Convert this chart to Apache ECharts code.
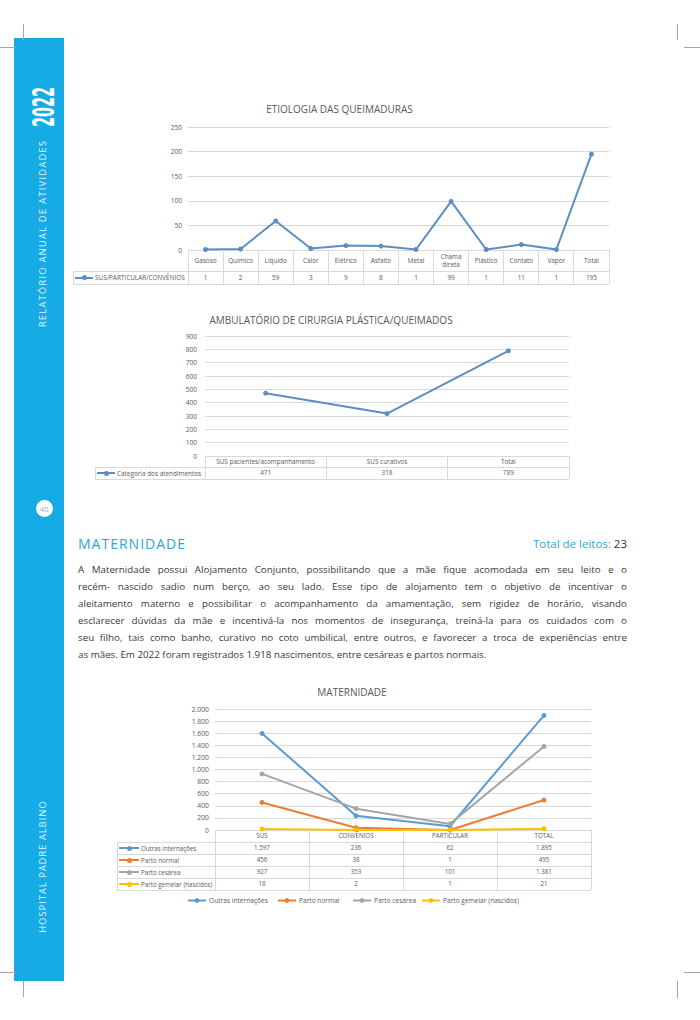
<!DOCTYPE html>
<html lang="pt-BR"><head><meta charset="utf-8"><title>Relatório Anual de Atividades 2022</title>
<script src="https://cdn.jsdelivr.net/npm/echarts@6.0.0/dist/echarts.min.js"></script>
<style>
html,body{margin:0;padding:0;background:#fff;}
#page{position:relative;width:700px;height:1020px;overflow:hidden;font-family:'Open Sans',sans-serif;background:#fff;}
.ln{position:absolute;background:#a6a6a6;}
.tl{position:absolute;background:#d9d9d9;}
.rot{position:absolute;white-space:nowrap;color:#fff;transform-origin:50% 50%;line-height:1;}
.cell{position:absolute;display:flex;align-items:center;justify-content:center;text-align:center;color:#595959;line-height:1.2;}
.legc{position:absolute;display:flex;align-items:center;color:#595959;white-space:nowrap;}
.key{position:relative;flex:none;margin-right:2px;}
.key i{position:absolute;left:0;right:0;top:50%;height:2px;margin-top:-1px;}
.key b{position:absolute;left:50%;top:50%;width:5px;height:5px;margin:-2.5px 0 0 -2.5px;border-radius:50%;}
.chart{position:absolute;}
.pl{position:absolute;left:78px;width:549px;height:17px;line-height:17px;color:#3a3a3a;text-align:justify;}
</style></head>
<body><div id="page">
  <div id="bar" style="position:absolute;left:14px;top:38px;width:50px;height:943px;background:#17ABE6;"></div>
  <div id="c1" class="chart" style="left:60px;top:95px;width:560px;height:195px;"></div>
  <div id="c2" class="chart" style="left:60px;top:300px;width:560px;height:190px;"></div>
  <div id="c3" class="chart" style="left:100px;top:680px;width:520px;height:235px;"></div>
</div>
<script>
// ================= DATA =================
const etioCategories = ['Gasoso','Químico','Líquido','Calor','Elétrico','Asfalto','Metal','Chama direta','Plástico','Contato','Vapor','Total'];
const etioSeriesName = 'SUS/PARTICULAR/CONVÊNIOS';
const etioValues = [1,2,59,3,9,8,1,99,1,11,1,195];
const etioAxis = {min:0, max:250, interval:50};

const ambCategories = ['SUS pacientes/acompanhamento','SUS curativos','Total'];
const ambSeriesName = 'Categoria dos atendimentos';
const ambValues = [471,318,789];
const ambAxis = {min:0, max:900, interval:100};

const matCategories = ['SUS','CONVÊNIOS','PARTICULAR','TOTAL'];
const matSeriesNames = ['Outras internações','Parto normal','Parto cesárea','Parto gemelar (nascidos)'];
const matOutras = [1597,236,62,1895];
const matNormal = [456,38,1,495];
const matCesarea = [927,353,101,1381];
const matGemelar = [18,2,1,21];
const matAxis = {min:0, max:2000, interval:200};

const titles = ['ETIOLOGIA DAS QUEIMADURAS','AMBULATÓRIO DE CIRURGIA PLÁSTICA/QUEIMADOS','MATERNIDADE'];
const sectionTitle = 'MATERNIDADE';
const bedsLabel = 'Total de leitos:';
const bedsValue = '23';
const paraLines = [
 'A Maternidade possui Alojamento Conjunto, possibilitando que a mãe fique acomodada em seu leito e o',
 'recém- nascido sadio num berço, ao seu lado. Esse tipo de alojamento tem o objetivo de incentivar o',
 'aleitamento materno e possibilitar o acompanhamento da amamentação, sem rigidez de horário, visando',
 'esclarecer dúvidas da mãe e incentivá-la nos momentos de insegurança, treiná-la para os cuidados com o',
 'seu filho, tais como banho, curativo no coto umbilical, entre outros, e favorecer a troca de experiências entre',
 'as mães. Em 2022 foram registrados 1.918 nascimentos, entre cesáreas e partos normais.'
];
const sideYear = '2022';
const sideTop = 'RELATÓRIO ANUAL DE ATIVIDADES';
const sideBottom = 'HOSPITAL PADRE ALBINO';
const pageNumber = '40';

// ================= STYLE =================
const blue1 = '#5B8EC2';
const matColors = ['#5B9BD5','#ED7D31','#A5A5A5','#FFC000'];
const FONT = "'Open Sans', sans-serif";
const fmt = v => String(v).replace(/\B(?=(\d{3})+(?!\d))/g, '.');

const page = document.getElementById('page');
function add(cls, css, text){ const d=document.createElement('div'); if(cls) d.className=cls; if(css) d.style.cssText=css; if(text!=null) d.textContent=text; page.appendChild(d); return d; }

// crop marks
[[0,47,16,1],[23,24,1,16],[0,972,16,1],[23,981,1,16],[684,47,16,1],[677,24,1,16],[684,972,16,1],[677,981,1,17]]
 .forEach(r=>add('ln',`left:${r[0]}px;top:${r[1]}px;width:${r[2]}px;height:${r[3]}px;`));

// rotated sidebar text
function rotText(txt, cx, cy, len, o){
  const d = add('rot', `left:${cx}px;top:${cy}px;font-size:${o.size}px;font-weight:${o.weight||400};font-family:${o.family||FONT};color:${o.color||'#fff'}`, txt);
  const w = d.getBoundingClientRect().width;
  if(o.mode==='scale'){
    d.style.transform = `translate(-50%,-50%) rotate(-90deg) scaleX(${len/w})`;
  } else {
    const ls = (len - w)/(txt.length-1);
    d.style.letterSpacing = ls+'px'; d.style.paddingLeft = ls+'px';
    d.style.transform = 'translate(-50%,-50%) rotate(-90deg)';
  }
  return d;
}
rotText(sideYear, 44, 107, 40, {size:30, weight:700, family:"'DejaVu Sans', sans-serif", mode:'scale'});
rotText(sideTop, 42, 234, 186, {size:9, color:'#e6f6fd'});
rotText(sideBottom, 41.5, 867, 131, {size:9, color:'#e6f6fd'});
add('', `position:absolute;left:35.5px;top:499.5px;width:17px;height:17px;border-radius:50%;background:#fff;color:#8fb4c9;font-size:8px;line-height:17px;text-align:center;font-family:${FONT}`, pageNumber);

// section heading
(function(){
  const h = add('', `position:absolute;left:78px;top:535px;height:18px;line-height:18px;font-size:14px;color:#2AA6D5;white-space:nowrap;font-family:${FONT}`, sectionTitle);
  const w = h.getBoundingClientRect().width;
  h.style.letterSpacing = ((107-w)/(sectionTitle.length-1))+'px';
  const b = add('', `position:absolute;right:73px;top:535px;height:18px;line-height:18px;font-size:11.5px;white-space:nowrap;color:#2AA6D5;font-family:${FONT}`);
  b.innerHTML = bedsLabel + ' <span style="color:#333">' + bedsValue + '</span>';
})();

// paragraph
(function(){
  const meas = add('', `position:absolute;visibility:hidden;white-space:nowrap;font-size:10px;font-family:${FONT}`);
  const ws = paraLines.map(t=>{meas.textContent=t; return meas.getBoundingClientRect().width;});
  meas.remove();
  const fs = Math.min(10*409/ws[5], 10*546/Math.max(...ws.slice(0,5)));
  paraLines.forEach((t,i)=>{
    add('pl', `top:${560.5+17*i}px;font-size:${fs}px;font-family:${FONT};text-align-last:${i<5?'justify':'left'}`, t);
  });
})();

// data tables (Excel style) under each chart
function buildTable(t){
  const n = t.categories.length;
  const cw = (t.x1 - t.x0)/n;
  const lastBottom = t.rowTops[t.rowTops.length-1] + t.rowH;
  for(let i=0;i<=n;i++) add('tl',`left:${t.x0+i*cw-0.5}px;top:${t.headTop}px;width:1px;height:${lastBottom-t.headTop}px`);
  add('tl',`left:${t.legX-0.5}px;top:${t.rowTops[0]}px;width:1px;height:${lastBottom-t.rowTops[0]}px`);
  t.rowTops.forEach(y=>add('tl',`left:${t.legX}px;top:${y-0.5}px;width:${t.x1-t.legX}px;height:1px`));
  add('tl',`left:${t.legX}px;top:${lastBottom-0.5}px;width:${t.x1-t.legX}px;height:1px`);
  t.categories.forEach((c,i)=>add('cell',`left:${t.x0+i*cw}px;top:${t.headTop}px;width:${cw}px;height:${t.rowTops[0]-t.headTop}px;font-size:${t.fs}px;font-family:${FONT}`, c));
  t.rows.forEach((r,j)=>{
    const top = t.rowTops[j];
    const lc = add('legc',`left:${t.legX+2}px;top:${top}px;height:${t.rowH}px;font-size:${t.fs}px;font-family:${FONT}`);
    lc.innerHTML = `<span class="key" style="width:${t.keyW}px;height:${t.rowH}px"><i style="background:${r.color}"></i><b style="background:${r.color}"></b></span>`;
    const sp = document.createElement('span'); sp.textContent = r.name; lc.appendChild(sp);
    r.values.forEach((v,i)=>add('cell',`left:${t.x0+i*cw}px;top:${top}px;width:${cw}px;height:${t.rowH}px;font-size:${t.fs}px;font-family:${FONT}`, fmt(v)));
  });
}
buildTable({x0:188, x1:609, legX:73, headTop:250, rowTops:[271], rowH:13, fs:6.4, keyW:18,
  categories: etioCategories, rows:[{name:etioSeriesName, color:blue1, values:etioValues}]});
buildTable({x0:205, x1:569, legX:95, headTop:456, rowTops:[467], rowH:12, fs:6.4, keyW:18,
  categories: ambCategories, rows:[{name:ambSeriesName, color:blue1, values:ambValues}]});
const matSeriesData = [matOutras, matNormal, matCesarea, matGemelar];
buildTable({x0:215, x1:591, legX:117, headTop:830, rowTops:[842,854,866,878], rowH:12, fs:6.2, keyW:20,
  categories: matCategories, rows: matSeriesNames.map((nm,i)=>({name:nm, color:matColors[i], values:matSeriesData[i]}))});

// charts
function makeChart(id, cfg){
  const ch = echarts.init(document.getElementById(id), null, {renderer:'svg'});
  ch.setOption({
    animation:false,
    textStyle:{fontFamily:FONT},
    grid:{left:cfg.grid[0], top:cfg.grid[1], width:cfg.grid[2], height:cfg.grid[3], containLabel:false, outerBoundsMode:'none'},
    xAxis:{type:'category', data:cfg.categories, boundaryGap:true, axisLine:{show:false}, axisTick:{show:false}, axisLabel:{show:false}, splitLine:{show:false}},
    yAxis:{type:'value', min:cfg.axis.min, max:cfg.axis.max, interval:cfg.axis.interval,
      axisLine:{show:false}, axisTick:{show:false},
      axisLabel:{fontSize:cfg.labelSize, color:'#595959', margin:cfg.margin, formatter:fmt, fontFamily:FONT},
      splitLine:{lineStyle:{color:'#d9d9d9', width:1}}},
    legend: cfg.legend || {show:false},
    graphic:[{type:'text', x:cfg.title[1], y:cfg.title[2], silent:true,
      style:{text:cfg.title[0], fill:'#595959', fontSize:cfg.titleSize, fontFamily:FONT, textAlign:'center', textVerticalAlign:'middle', align:'center', verticalAlign:'middle'}}],
    series: cfg.series.map(s=>({type:'line', name:s.name, data:s.data, symbol:'circle', symbolSize:5, showSymbol:true,
      lineStyle:{width:2, color:s.color}, itemStyle:{color:s.color}, emphasis:{disabled:true}}))
  });
  return ch;
}
makeChart('c1', {grid:[128,32,421,123], categories:etioCategories, axis:etioAxis, labelSize:6.6, margin:6,
  title:[titles[0],279.5,14], titleSize:10,
  series:[{name:etioSeriesName, data:etioValues, color:blue1}]});
makeChart('c2', {grid:[145,36,364,120], categories:ambCategories, axis:ambAxis, labelSize:6.6, margin:8,
  title:[titles[1],271,20], titleSize:10,
  series:[{name:ambSeriesName, data:ambValues, color:blue1}]});
const legLefts = [87,177,252,321];
makeChart('c3', {grid:[115,29,376,121], categories:matCategories, axis:matAxis, labelSize:6.8, margin:6,
  title:[titles[2],252,12], titleSize:10,
  legend: matSeriesNames.map((nm,i)=>({data:[nm], left:legLefts[i], top:217, itemWidth:18, itemHeight:6, itemGap:0, padding:0,
    textStyle:{fontSize:6.6, color:'#595959', fontFamily:FONT, padding:[0,0,0,-2]}})),
  series: matSeriesNames.map((nm,i)=>({name:nm, data:matSeriesData[i], color:matColors[i]}))});
</script>
</body></html>
